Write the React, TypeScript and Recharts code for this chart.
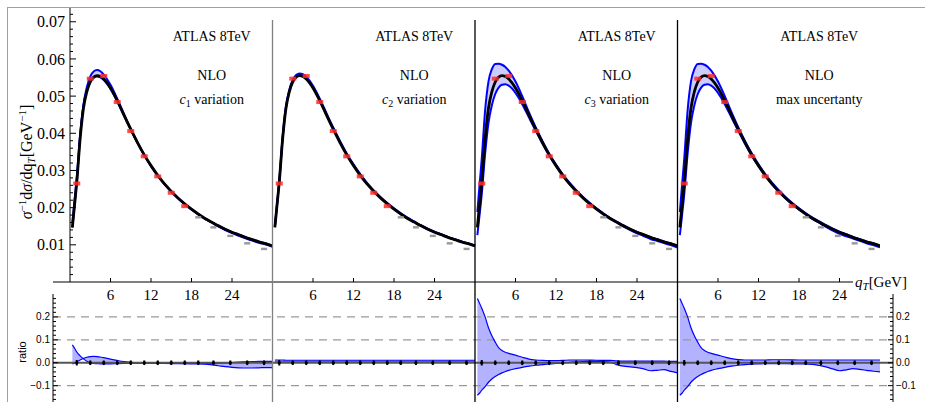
import { ComposedChart, Line, Area, Scatter, XAxis, YAxis, ReferenceLine, ErrorBar } from 'recharts';

const SERIF = '"Liberation Serif", "Times New Roman", serif';
const SANS = '"Liberation Sans", Arial, sans-serif';
const BLUE = '#0000ff';

const qGrid = [0.35, 0.7, 1, 1.5, 2, 2.5, 3, 3.5, 4, 4.5, 5, 6, 7, 8, 9, 10, 11, 12, 13, 14, 16, 18, 20, 21, 22, 23, 24, 25, 26, 27, 28, 29, 30];

// NLO central prediction, sigma^-1 dsigma/dqT
const central = [0.0147, 0.0212, 0.0268, 0.0385, 0.0468, 0.0512, 0.0538, 0.0551, 0.0555, 0.0553, 0.0546, 0.0522, 0.0488, 0.0449, 0.0411, 0.0375, 0.0342, 0.0313, 0.0287, 0.0264, 0.0226, 0.0196, 0.0171, 0.0161, 0.0151, 0.0142, 0.0134, 0.0127, 0.0120, 0.0114, 0.0108, 0.0103, 0.0097];

// relative deviation of the two variations from central (ratio panels)
const c1VarA = [0.078, 0.062, 0.047, 0.030, 0.017, 0.007, 0.000, -0.003, -0.004, -0.005, -0.005, -0.005, -0.004, -0.003, -0.002, -0.002, -0.002, -0.002, -0.002, -0.002, -0.002, -0.003, -0.003, -0.003, -0.002, -0.001, 0.001, 0.003, 0.004, 0.005, 0.006, 0.006, 0.006];
const c1VarB = [-0.005, -0.001, 0.004, 0.012, 0.019, 0.024, 0.027, 0.028, 0.027, 0.025, 0.022, 0.016, 0.010, 0.005, 0.002, 0.000, -0.001, -0.002, -0.003, -0.003, -0.004, -0.005, -0.006, -0.009, -0.013, -0.017, -0.020, -0.022, -0.023, -0.023, -0.022, -0.021, -0.021];
const c2VarA = [0.012, 0.012, 0.012, 0.012, 0.011, 0.011, 0.011, 0.011, 0.011, 0.011, 0.011, 0.011, 0.011, 0.011, 0.011, 0.011, 0.011, 0.011, 0.011, 0.011, 0.011, 0.011, 0.011, 0.011, 0.011, 0.011, 0.011, 0.011, 0.011, 0.011, 0.011, 0.011, 0.011];
const c2VarB = [0.003, 0.003, 0.003, 0.003, 0.003, 0.003, 0.003, 0.003, 0.003, 0.003, 0.003, 0.003, 0.003, 0.003, 0.003, 0.003, 0.003, 0.003, 0.003, 0.003, 0.003, 0.003, 0.003, 0.003, 0.003, 0.003, 0.003, 0.003, 0.003, 0.003, 0.003, 0.003, 0.003];
const c3VarUp = [0.280, 0.258, 0.238, 0.200, 0.153, 0.118, 0.090, 0.066, 0.053, 0.046, 0.041, 0.033, 0.024, 0.016, 0.012, 0.010, 0.009, 0.009, 0.010, 0.012, 0.012, 0.011, 0.010, 0.008, 0.007, 0.007, 0.007, 0.007, 0.007, 0.007, 0.007, 0.006, 0.006];
const c3VarDown = [-0.142, -0.132, -0.120, -0.104, -0.085, -0.071, -0.060, -0.051, -0.044, -0.038, -0.033, -0.026, -0.020, -0.015, -0.011, -0.008, -0.005, -0.003, -0.001, 0.002, 0.005, 0.006, 0.003, -0.008, -0.015, -0.018, -0.021, -0.027, -0.035, -0.033, -0.030, -0.038, -0.044];
const maxVarUp = [0.280, 0.258, 0.238, 0.200, 0.153, 0.118, 0.090, 0.066, 0.053, 0.046, 0.041, 0.033, 0.025, 0.018, 0.014, 0.012, 0.012, 0.012, 0.012, 0.013, 0.013, 0.012, 0.012, 0.012, 0.012, 0.012, 0.012, 0.012, 0.012, 0.012, 0.012, 0.012, 0.012];
const maxVarDown = [-0.142, -0.132, -0.120, -0.104, -0.085, -0.071, -0.060, -0.051, -0.044, -0.038, -0.033, -0.026, -0.020, -0.015, -0.011, -0.008, -0.006, -0.005, -0.004, -0.004, -0.004, -0.005, -0.007, -0.012, -0.018, -0.027, -0.035, -0.031, -0.026, -0.029, -0.033, -0.037, -0.040];

// ATLAS 8TeV bins
const dataQ = [1, 3, 5, 7, 9, 11, 13, 15, 17, 19, 21.25, 23.75, 26.25, 28.75];
const dataVal = [0.0265, 0.0547, 0.0554, 0.0484, 0.0406, 0.0338, 0.0284, 0.0240, 0.0204, 0.0174, 0.0147, 0.0124, 0.0104, 0.0089];
const ratioDataVal = [0, 0, 0, 0, 0, 0, 0, 0, 0, 0, 0, 0, 0, 0];
const ratioDataErr = [0.012, 0.01, 0.01, 0.01, 0.01, 0.01, 0.01, 0.01, 0.01, 0.01, 0.01, 0.01, 0.01, 0.01];
const FIT_MAX_Q = 18; // red points used in fit, grey above

const yMajorTicks = [0.01, 0.02, 0.03, 0.04, 0.05, 0.06, 0.07];
const xTickLabels = [6, 12, 18, 24];
const ratioMajorTicks = [-0.1, 0, 0.1, 0.2];
const ratioGridLines = [-0.1, 0.1, 0.2];
const variationSubs = ['1', '2', '3'];
const maxLabel = 'max uncertanty';

const PANEL = 30;
const panels = [
  { a: c1VarA, b: c1VarB, sep: '#000' },
  { a: c2VarA, b: c2VarB, sep: '#808080' },
  { a: c3VarUp, b: c3VarDown, sep: '#000' },
  { a: maxVarUp, b: maxVarDown, sep: '#000' },
];

const topRows: any[] = [];
const ratioRows: any[] = [];
panels.forEach((p, k) => {
  qGrid.forEach((q, i) => {
    const hi = Math.max(p.a[i], p.b[i]);
    const lo = Math.min(p.a[i], p.b[i]);
    const c = central[i];
    topRows.push({ x: q + PANEL * k, c, hi: c * (1 + hi), lo: c * (1 + lo), band: [c * (1 + lo), c * (1 + hi)] });
    ratioRows.push({ x: q + PANEL * k, a: p.a[i], b: p.b[i], band: [lo, hi] });
  });
  // break the curves between panels
  topRows.push({ x: PANEL * k + 30.2 });
  ratioRows.push({ x: PANEL * k + 30.2 });
});

const topPts = panels.flatMap((_, k) =>
  dataQ.map((q, i) => ({ x: q + PANEL * k, y: dataVal[i], fit: q < FIT_MAX_Q })));
const ratioPts = panels.flatMap((_, k) =>
  dataQ.map((q, i) => ({ x: q + PANEL * k, y: ratioDataVal[i], err: ratioDataErr[i] })));

const yAllTicks = Array.from({ length: 36 }, (_, i) => +(0.002 * (i + 1)).toFixed(3));
const ratioAllTicks = Array.from({ length: 23 }, (_, i) => +(-0.16 + 0.02 * i).toFixed(2));
const xAllTicks = panels.flatMap((_, k) => xTickLabels.map(t => t + PANEL * k));
const separators = [30, 60, 90];

function TopYTick({ x, y, payload }: any) {
  const v = payload.value;
  const major = yMajorTicks.some(t => Math.abs(t - v) < 1e-6);
  return (
    <g>
      <line x1={x} x2={x + (major ? 6 : 3)} y1={y} y2={y} stroke="#000" strokeWidth={1} />
      {major && (
        <text x={x - 5} y={y} dy="0.35em" textAnchor="end" fontSize={16} fontFamily={SERIF} fill="#000">
          {v.toFixed(2)}
        </text>
      )}
    </g>
  );
}

function TopXTick({ x, y, payload }: any) {
  const v = Math.round(payload.value) % PANEL;
  return (
    <g>
      <line x1={x} x2={x} y1={y} y2={y - 4} stroke="#000" strokeWidth={1} />
      <text x={x} y={y + 18} textAnchor="middle" fontSize={15} fontFamily={SERIF} fill="#000">{v}</text>
    </g>
  );
}

function RatioTick({ x, y, payload, side }: any) {
  const v = payload.value;
  const major = ratioMajorTicks.some(t => Math.abs(t - v) < 1e-6);
  const dir = side === 'left' ? 1 : -1;
  const label = v < -1e-6 ? '\u2212' + Math.abs(v).toFixed(1) : Math.abs(v).toFixed(1);
  return (
    <g>
      <line x1={x} x2={x + dir * (major ? 5 : 3)} y1={y} y2={y} stroke="#000" strokeWidth={1} />
      {major && (
        <text x={x - dir * 3} y={y} dy="0.35em" textAnchor={side === 'left' ? 'end' : 'start'}
          fontSize={10} fontFamily={SANS} fill="#000">
          {label}
        </text>
      )}
    </g>
  );
}

function DataMark({ cx, cy, payload }: any) {
  if (payload.fit) {
    return <rect x={cx - 3.5} y={cy - 2} width={7} height={4} fill="#ff2a2a" fillOpacity={0.85} />;
  }
  return <rect x={cx - 3} y={cy - 1.2} width={6} height={2.4} fill="#999" />;
}

function RatioMark({ cx, cy }: any) {
  return <circle cx={cx} cy={cy} r={1.6} fill="#000" />;
}

export default function App() {
  const labelX = (k: number) => 70 + (PANEL * k + 21) * 6.75;
  return (
    <div style={{ position: 'absolute', left: 0, top: 0, width: 925, height: 402, overflow: 'hidden', background: '#fff' }}>
      <div style={{ position: 'absolute', left: 7, top: 7, width: 930, height: 410, borderTop: '1px solid #a0a0a0', borderLeft: '1px solid #a0a0a0' }} />

      <div style={{ position: 'absolute', left: 10, top: 0 }}>
        <ComposedChart width={880} height={304} data={topRows} margin={{ top: 8, right: 10, bottom: 0, left: 0 }}>
          <XAxis type="number" dataKey="x" domain={[0, 120]} allowDataOverflow ticks={xAllTicks} interval={0}
            tick={<TopXTick />} tickLine={false} axisLine={false} tickSize={0} tickMargin={0} height={22} />
          <YAxis type="number" domain={[0, 0.0737]} allowDataOverflow ticks={yAllTicks} interval={0}
            tick={<TopYTick />} tickLine={false} tickSize={0} tickMargin={0} width={60}
            axisLine={{ stroke: '#000', strokeWidth: 1 }} />
          <Area type="monotone" dataKey="band" stroke="none" fill={BLUE} fillOpacity={0.2} isAnimationActive={false} activeDot={false} />
          <Line type="monotone" dataKey="hi" stroke={BLUE} strokeWidth={2} dot={false} activeDot={false} isAnimationActive={false} />
          <Line type="monotone" dataKey="lo" stroke={BLUE} strokeWidth={2} dot={false} activeDot={false} isAnimationActive={false} />
          <Line type="monotone" dataKey="c" stroke="#000" strokeWidth={2.8} dot={false} activeDot={false} isAnimationActive={false} />
          <Scatter data={topPts} dataKey="y" shape={<DataMark />} isAnimationActive={false} />
          <ReferenceLine segment={[{ x: -2.52, y: 0 }, { x: 116, y: 0 }]} stroke="#000" strokeWidth={1} ifOverflow="visible" />
          {separators.map((s, i) => (
            <ReferenceLine key={s} segment={[{ x: s, y: 0.0705 }, { x: s, y: -0.0033 }]}
              stroke={panels[i + 1].sep} strokeWidth={1.3} ifOverflow="visible" />
          ))}
        </ComposedChart>
      </div>

      <div style={{ position: 'absolute', left: 13, top: 294 }}>
        <ComposedChart width={910} height={110} data={ratioRows} margin={{ top: 0, right: 0, bottom: 0, left: 0 }}>
          <XAxis type="number" dataKey="x" domain={[-2.52, 121.93]} allowDataOverflow hide />
          <YAxis yAxisId="l" type="number" domain={[-0.18, 0.3]} allowDataOverflow ticks={ratioAllTicks} interval={0}
            tick={<RatioTick side="left" />} tickLine={false} tickSize={0} tickMargin={0} width={40}
            axisLine={{ stroke: '#000', strokeWidth: 1 }} />
          <YAxis yAxisId="r" orientation="right" type="number" domain={[-0.18, 0.3]} allowDataOverflow ticks={ratioAllTicks} interval={0}
            tick={<RatioTick side="right" />} tickLine={false} tickSize={0} tickMargin={0} width={30}
            axisLine={{ stroke: '#000', strokeWidth: 1 }} />
          {ratioGridLines.map(g => (
            <ReferenceLine key={g} yAxisId="l" y={g} stroke="#999" strokeWidth={1.3} strokeDasharray="8 6" />
          ))}
          <Area yAxisId="l" type="monotone" dataKey="band" stroke="none" fill={BLUE} fillOpacity={0.3} isAnimationActive={false} activeDot={false} />
          <Line yAxisId="l" type="monotone" dataKey="a" stroke={BLUE} strokeWidth={1.2} dot={false} activeDot={false} isAnimationActive={false} />
          <Line yAxisId="l" type="monotone" dataKey="b" stroke={BLUE} strokeWidth={1.2} dot={false} activeDot={false} isAnimationActive={false} />
          <ReferenceLine yAxisId="l" y={0} stroke="#555" strokeWidth={1.8} />
          {separators.map((s, i) => (
            <ReferenceLine key={s} yAxisId="l" x={s} stroke={panels[i + 1].sep} strokeWidth={1.3} />
          ))}
          <Scatter yAxisId="l" data={ratioPts} dataKey="y" shape={<RatioMark />} isAnimationActive={false}>
            <ErrorBar dataKey="err" direction="y" width={0} stroke="#000" strokeWidth={2} />
          </Scatter>
        </ComposedChart>
      </div>

      <svg width={925} height={402} style={{ position: 'absolute', left: 0, top: 0, pointerEvents: 'none' }}>
        {panels.map((_, k) => (
          <g key={k} fontFamily={SERIF} fontSize={14} fill="#000" textAnchor="middle">
            <text x={labelX(k)} y={41}>ATLAS 8TeV</text>
            <text x={labelX(k)} y={80}>NLO</text>
            {k < 3 ? (
              <text x={labelX(k)} y={104}>
                <tspan fontStyle="italic">c</tspan>
                <tspan fontSize={10} dy={3}>{variationSubs[k]}</tspan>
                <tspan dy={-3}> variation</tspan>
              </text>
            ) : (
              <text x={labelX(k)} y={104}>{maxLabel}</text>
            )}
          </g>
        ))}
        <text transform="translate(32,162) rotate(-90)" textAnchor="middle" fontFamily={SERIF} fontSize={16} fill="#000">
          <tspan fontStyle="italic">σ</tspan>
          <tspan fontSize={11} dy={-6}>−1</tspan>
          <tspan dy={6}>d</tspan>
          <tspan fontStyle="italic">σ</tspan>
          <tspan>/dq</tspan>
          <tspan fontSize={11} dy={3} fontStyle="italic">T</tspan>
          <tspan dy={-3}>[GeV</tspan>
          <tspan fontSize={11} dy={-6}>−1</tspan>
          <tspan dy={6}>]</tspan>
        </text>
        <text transform="translate(26,352) rotate(-90)" textAnchor="middle" fontFamily={SANS} fontSize={11} fill="#000">ratio</text>
        <text x={855} y={287} fontFamily={SERIF} fontSize={15} fill="#000">
          <tspan fontStyle="italic">q</tspan>
          <tspan fontSize={11} dy={3} fontStyle="italic">T</tspan>
          <tspan dy={-3}>[GeV]</tspan>
        </text>
      </svg>
    </div>
  );
}
